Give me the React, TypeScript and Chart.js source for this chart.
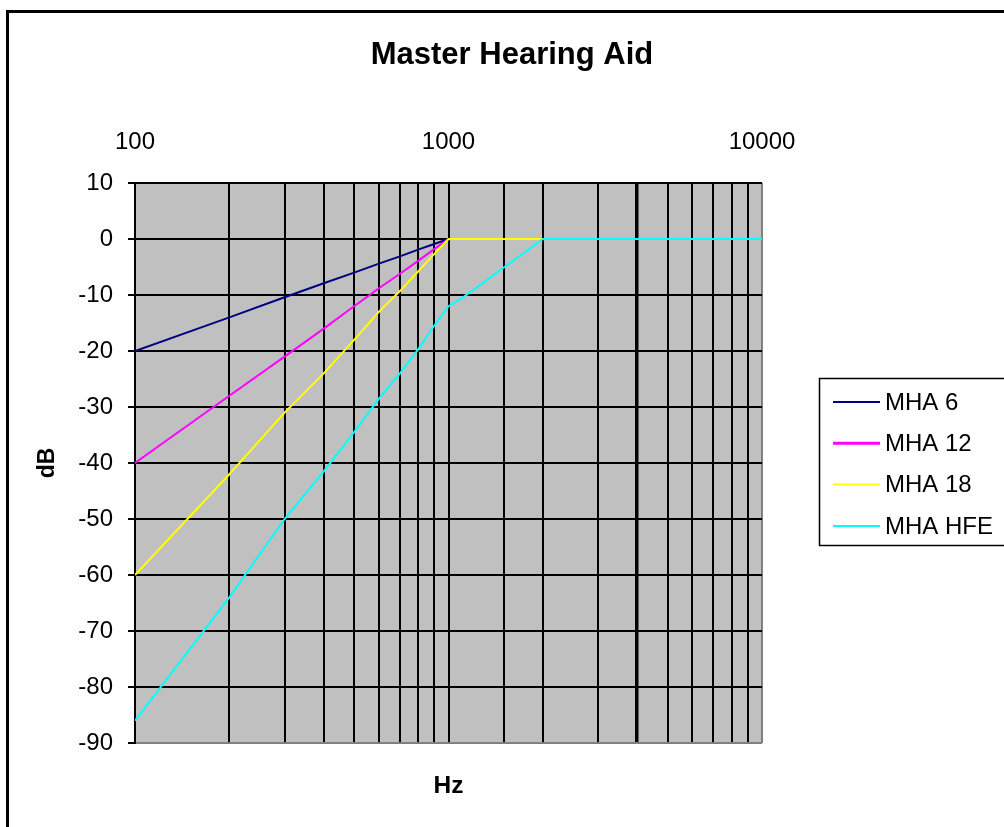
import React, { useEffect, useRef } from 'react';
import { Chart, registerables } from 'chart.js';

Chart.register(...registerables);

const chartTitle = 'Master Hearing Aid';
const xAxisTitle = 'Hz';
const yAxisTitle = 'dB';

const freqHz = [100, 200, 300, 400, 500, 600, 700, 800, 900, 1000, 1100, 1250, 1500, 1750, 2000, 4000, 10000];
const mha6 = [-20, -14, -10.4, -7.9, -6, -4.4, -3.1, -1.9, -0.9, 0, 0, 0, 0, 0, 0, 0, 0];
const mha12 = [-40, -28, -21, -16, -12, -8.8, -6.2, -3.9, -1.8, 0, 0, 0, 0, 0, 0, 0, 0];
const mha18 = [-60, -42, -31, -24, -18, -13, -9.3, -5.8, -2.7, 0, 0, 0, 0, 0, 0, 0, 0];
const mhaHfe = [-86, -64, -50, -41.5, -34.5, -28.5, -24, -19.7, -15.5, -12, -10.6, -8.4, -5.1, -2.4, 0, 0, 0];

const seriesLabels = ['MHA 6', 'MHA 12', 'MHA 18', 'MHA HFE'];
const seriesColors = ['#000080', '#ff00ff', '#ffff00', '#00ffff'];
const seriesValues = [mha6, mha12, mha18, mhaHfe];

const xTickLabels = [100, 1000, 10000];
const yMin = -90;
const yMax = 10;
const yStep = 10;

const FONT = "'Liberation Sans', Arial, sans-serif";

const bgPlugin = {
  id: 'bgPlugin',
  beforeDraw(chart: any) {
    const { ctx, chartArea } = chart;
    ctx.save();
    ctx.fillStyle = '#ffffff';
    ctx.fillRect(0, 0, chart.width, chart.height);
    ctx.fillStyle = '#c0c0c0';
    ctx.fillRect(chartArea.left, chartArea.top, chartArea.right - chartArea.left, chartArea.bottom - chartArea.top);
    ctx.restore();
  },
};

const boxLegendPlugin = {
  id: 'boxLegendPlugin',
  afterDraw(chart: any) {
    const { ctx } = chart;
    ctx.save();
    ctx.strokeStyle = '#000';
    ctx.lineWidth = 1.5;
    ctx.strokeRect(819.5, 378.5, 260, 167);
    const ds = chart.data.datasets;
    ds.forEach((d: any, i: number) => {
      const y = 402 + i * 41.3;
      ctx.strokeStyle = d.borderColor;
      ctx.lineWidth = i === 1 ? 3 : 2;
      ctx.beginPath();
      ctx.moveTo(833, y);
      ctx.lineTo(880, y);
      ctx.stroke();
      ctx.fillStyle = '#000';
      ctx.font = `24px ${FONT}`;
      ctx.textBaseline = 'middle';
      ctx.textAlign = 'left';
      ctx.fillText(d.label, 885, y + 1);
    });
    ctx.restore();
  },
};

export default function App() {
  const ref = useRef<HTMLCanvasElement>(null);

  useEffect(() => {
    const canvas = ref.current;
    if (!canvas) return;
    const chart = new Chart(canvas, {
      type: 'line',
      data: {
        datasets: seriesLabels.map((label, i) => ({
          label,
          data: freqHz.map((f, j) => ({ x: f, y: seriesValues[i][j] })),
          borderColor: seriesColors[i],
          backgroundColor: seriesColors[i],
          borderWidth: 2,
          pointRadius: 0,
          tension: 0,
          fill: false,
          order: 3 - i,
          xAxisID: 'x',
          yAxisID: 'y',
        })),
      },
      options: {
        responsive: false,
        animation: false,
        devicePixelRatio: 1,
        layout: { padding: 0 },
        plugins: {
          legend: { display: false },
          tooltip: { enabled: false },
          title: {
            display: true,
            text: chartTitle,
            color: '#000',
            font: { family: FONT, size: 31, weight: 'bold' },
            padding: { top: 36.4, bottom: 0 },
          },
        },
        scales: {
          x: {
            type: 'logarithmic',
            position: 'top',
            min: 100,
            max: 10000,
            ticks: {
              autoSkip: false,
              maxRotation: 0,
              minRotation: 0,
              padding: 26.6,
              color: '#000',
              font: { family: FONT, size: 24 },
              callback: (v: any) => {
                const n = Number(v);
                return xTickLabels.some((t) => Math.abs(t - n) < 1e-6) ? String(n) : '';
              },
            },
            grid: {
              drawTicks: false,
              color: (c: any) => (c.tick && Math.abs(c.tick.value - 10000) < 1e-6 ? '#808080' : '#000'),
              lineWidth: (c: any) => (c.tick && Math.abs(c.tick.value - 4000) < 1e-6 ? 3.5 : 2),
            },
            border: { display: false },
            afterFit: (s: any) => {
              s.height = 183 - 73.6;
            },
          },
          y: {
            type: 'linear',
            position: 'left',
            min: yMin,
            max: yMax,
            ticks: {
              stepSize: yStep,
              padding: 15,
              color: '#000',
              font: { family: FONT, size: 24 },
            },
            grid: {
              color: (c: any) => (c.tick && c.tick.value === yMin ? '#808080' : '#000'),
              lineWidth: 2,
              tickLength: 7,
              tickColor: '#000',
              tickWidth: 2,
            },
            border: { display: true, color: '#000', width: 2 },
            title: {
              display: true,
              text: yAxisTitle,
              color: '#000',
              font: { family: FONT, size: 23, weight: 'bold' },
              padding: { top: 33.7, bottom: 0 },
            },
            afterFit: (s: any) => {
              s.width = 135;
            },
          },
          x2: {
            type: 'linear',
            position: 'bottom',
            min: 0,
            max: 1,
            ticks: { display: false },
            grid: { display: false, drawTicks: false },
            border: { display: false },
            title: {
              display: true,
              text: xAxisTitle,
              color: '#000',
              font: { family: FONT, size: 24.5, weight: 'bold' },
              padding: { top: 0, bottom: 26.3 },
            },
            afterFit: (s: any) => {
              s.height = 84;
            },
          },
          y2: {
            type: 'linear',
            position: 'right',
            min: 0,
            max: 1,
            ticks: { display: false },
            grid: { display: false, drawTicks: false },
            border: { display: false },
            afterFit: (s: any) => {
              s.width = 1024 - 762;
            },
          },
        },
      } as any,
      plugins: [bgPlugin, boxLegendPlugin],
    });
    return () => chart.destroy();
  }, []);

  return (
    <div
      style={{
        position: 'fixed',
        left: 0,
        top: 0,
        width: 1004,
        height: 827,
        overflow: 'hidden',
        background: '#fff',
      }}
    >
      <canvas
        ref={ref}
        width={1024}
        height={827}
        style={{ position: 'absolute', left: 0, top: 0, width: 1024, height: 827 }}
      />
      <div
        style={{
          position: 'absolute',
          left: 6,
          top: 10,
          width: 1100,
          height: 900,
          border: '3px solid #000',
          boxSizing: 'border-box',
          pointerEvents: 'none',
        }}
      />
    </div>
  );
}
